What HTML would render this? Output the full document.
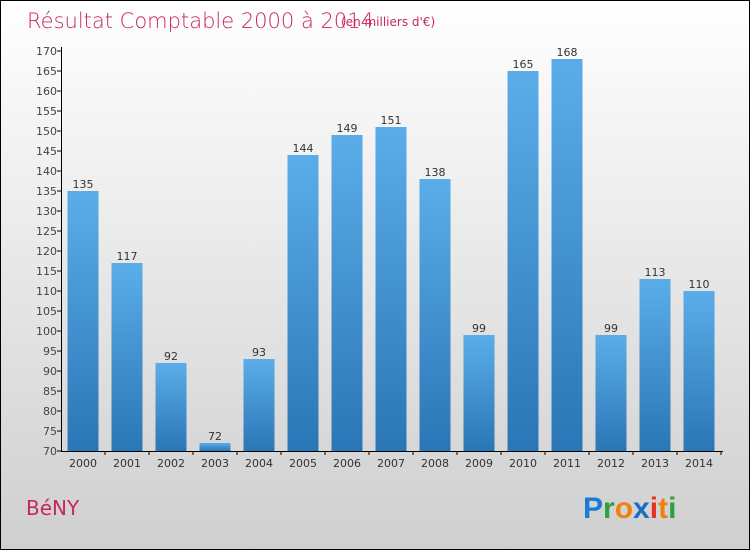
<!DOCTYPE html>
<html><head><meta charset="utf-8"><style>
body{margin:0}
#c{width:750px;height:550px;position:relative;box-sizing:border-box;border:1px solid #000;background:linear-gradient(#ffffff,#cfcfcf);font-family:"DejaVu Sans","Liberation Sans",sans-serif;overflow:hidden}
</style></head><body>
<div id="c">
<svg id="s" width="748" height="548" style="position:absolute;left:0;top:0">
<defs><linearGradient id="g" x1="0" y1="0" x2="0" y2="1"><stop offset="0" stop-color="#5badea"/><stop offset="1" stop-color="#2a76b6"/></linearGradient></defs>
<text x="26" y="27" font-size="21" fill="#c8285a" font-family="DejaVu Sans, sans-serif" font-weight="200">Résultat Comptable 2000 à 2014</text>
<text x="340" y="25" font-size="12" fill="#c8285a">(en milliers d'€)</text>
<text x="25" y="514" font-size="20" fill="#c8285a">BéNY</text>
<g font-size="30" font-weight="bold" font-family="Liberation Sans, sans-serif">
<text x="582" y="517"><tspan fill="#1a7ad4">P</tspan><tspan fill="#2aa040">r</tspan><tspan fill="#f08010">o</tspan><tspan fill="#1a6ac8">x</tspan><tspan fill="#e83020">i</tspan><tspan fill="#f08010">t</tspan><tspan fill="#2aa040">i</tspan></text>
</g>
<g id="plot"></g>
</svg>
</div>
<script>
const categories=["2000","2001","2002","2003","2004","2005","2006","2007","2008","2009","2010","2011","2012","2013","2014"];
const values=[135,117,92,72,93,144,149,151,138,99,165,168,99,113,110];
const yTicks=[70,75,80,85,90,95,100,105,110,115,120,125,130,135,140,145,150,155,160,165,170];
const NS="http://www.w3.org/2000/svg";
const g=document.getElementById("plot");
const y0=450,yTop=50,vMin=70,vMax=170;
function y(v){return y0-(v-vMin)/(vMax-vMin)*(y0-yTop);}
function x(i){return 82+i*44;}
function el(t,a){const e=document.createElementNS(NS,t);for(const k in a)e.setAttribute(k,a[k]);g.appendChild(e);return e;}
yTicks.forEach(t=>{
 const l=el("line",{x1:56,x2:61,y1:y(t),y2:y(t),stroke:"#000"});
 
 
 const tx=el("text",{x:56,y:y(t)+4,"text-anchor":"end","font-size":11,fill:"#444"});
 tx.textContent=t;
 
 
});
values.forEach((v,i)=>{
 const r=el("rect",{x:x(i)-15.5,y:y(v),width:31,height:y0-y(v),fill:"url(#g)"});
 
 
 const t=el("text",{x:x(i),y:y(v)-3,"text-anchor":"middle","font-size":11,fill:"#333"});
 t.textContent=v;
 
 
 const c=el("text",{x:x(i),y:466,"text-anchor":"middle","font-size":11,fill:"#333"});
 c.textContent=categories[i];
 
 
 const tk=el("line",{x1:x(i)+22,x2:x(i)+22,y1:450,y2:454,stroke:"#000"});
 
 
});
const ya=el("line",{x1:60.5,x2:60.5,y1:46,y2:450,stroke:"#000"});


const xa=el("line",{x1:60,x2:722,y1:450.5,y2:450.5,stroke:"#000"});


</script>
</body></html>
